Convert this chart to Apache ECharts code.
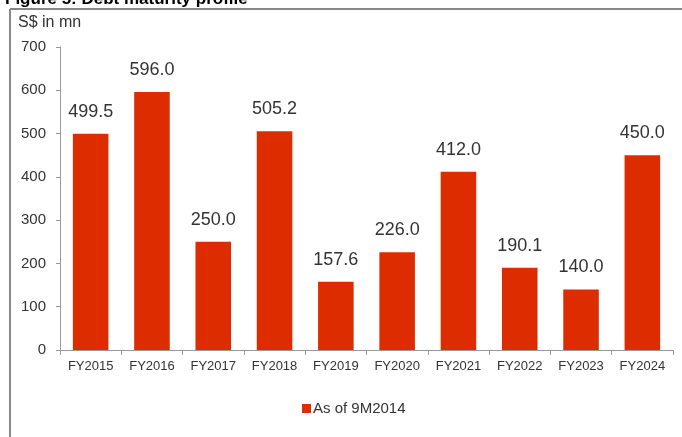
<!DOCTYPE html>
<html>
<head>
<meta charset="utf-8">
<script src="https://cdn.jsdelivr.net/npm/echarts@6/dist/echarts.min.js"></script>
<style>
    html, body { margin: 0; padding: 0; background: #fff; }
    #chart { width: 682px; height: 437px; }
</style>
</head>
<body>
<div id="chart"></div>
<script>
    // 数据
    const years = ['FY2015', 'FY2016', 'FY2017', 'FY2018', 'FY2019', 'FY2020', 'FY2021', 'FY2022', 'FY2023', 'FY2024'];
    const debtDue = [499.5, 596.0, 250.0, 505.2, 157.6, 226.0, 412.0, 190.1, 140.0, 450.0];
    const yTicks = [0, 100, 200, 300, 400, 500, 600, 700];

    let myChart = echarts.init(document.getElementById('chart'));
    let option = {
        animation: false,
        textStyle: { fontFamily: 'Liberation Sans, Arial, sans-serif' },
        graphic: [
            {
                type: 'text', left: 5, top: -9,
                style: { text: 'Figure 5: Debt maturity profile', font: 'bold 17px "Liberation Sans", Arial', fill: '#000' }
            },
            {
                type: 'line', shape: { x1: 10, y1: 9, x2: 682, y2: 9 },
                style: { stroke: '#888', lineWidth: 2 }
            },
            {
                type: 'line', shape: { x1: 10, y1: 9, x2: 10, y2: 437 },
                style: { stroke: '#888', lineWidth: 2 }
            },
            {
                type: 'text', left: 18, top: 15,
                style: { text: 'S$ in mn', font: '16px "Liberation Sans", Arial', fill: '#333' }
            }
        ],
        legend: {
            bottom: 16,
            left: 297,
            itemWidth: 9,
            itemHeight: 9,
            itemGap: 4,
            icon: 'rect',
            textStyle: { fontSize: 15, color: '#333', padding: [0, 0, 0, -3] },
            data: ['As of 9M2014']
        },
        grid: { left: 60, right: 9, top: 47, bottom: 87 },
        xAxis: {
            type: 'category',
            data: years,
            axisLine: { lineStyle: { color: '#999' } },
            axisTick: { show: true, length: 5, lineStyle: { color: '#999' } },
            axisLabel: { color: '#333', fontSize: 13, margin: 10 }
        },
        yAxis: {
            type: 'value',
            min: yTicks[0],
            max: yTicks[yTicks.length - 1],
            interval: 100,
            splitLine: { show: false },
            axisLine: { show: true, lineStyle: { color: '#999' } },
            axisTick: { show: true, length: 4, lineStyle: { color: '#999' } },
            axisLabel: { color: '#333', fontSize: 15, margin: 14 }
        },
        series: [{
            name: 'As of 9M2014',
            type: 'bar',
            data: debtDue,
            barWidth: '58%',
            itemStyle: { color: '#DD2C00' },
            label: {
                show: true,
                position: 'top',
                distance: 13,
                color: '#333',
                fontSize: 18,
                formatter: (p) => p.value.toFixed(1)
            }
        }]
    };
    myChart.setOption(option, true);
</script>
</body>
</html>
